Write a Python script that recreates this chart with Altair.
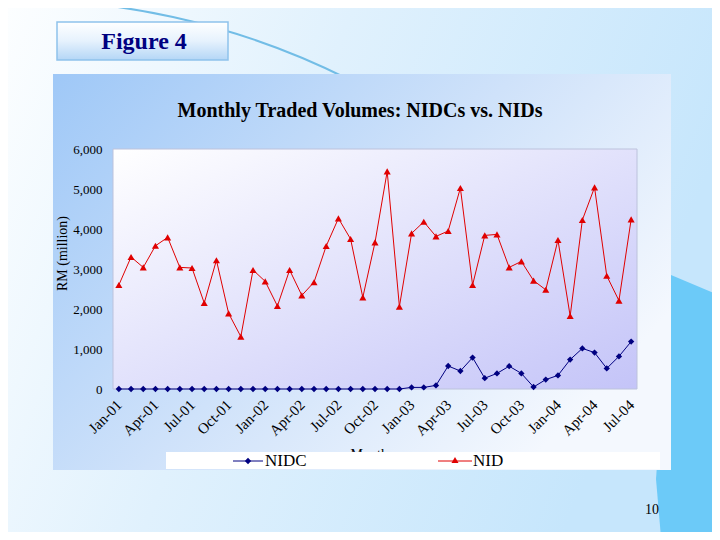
import altair as alt
import pandas as pd

# ---------------- data ----------------
month_names = ["Jan", "Feb", "Mar", "Apr", "May", "Jun",
               "Jul", "Aug", "Sep", "Oct", "Nov", "Dec"]
months = [f"{m}-{y:02d}" for y in range(1, 5) for m in month_names][:43]
quarter_labels = ["Jan-01", "Apr-01", "Jul-01", "Oct-01", "Jan-02", "Apr-02",
                  "Jul-02", "Oct-02", "Jan-03", "Apr-03", "Jul-03", "Oct-03",
                  "Jan-04", "Apr-04", "Jul-04"]

nidc = [0, 0, 0, 0, 0, 0, 0, 0, 0, 0,
        0, 0, 0, 0, 0, 0, 0, 0, 0, 0,
        0, 0, 0, 0, 40, 40, 90, 575, 450, 785,
        270, 390, 570, 390, 50, 235, 340, 735, 1015, 910,
        515, 815, 1185]
nid = [2600, 3300, 3040, 3580, 3790, 3040, 3025, 2150, 3220, 1890,
       1310, 2975, 2690, 2075, 2975, 2340, 2670, 3575, 4265, 3750,
       2290, 3665, 5440, 2060, 3890, 4180, 3815, 3950, 5025, 2600,
       3840, 3865, 3040, 3190, 2710, 2480, 3725, 1825, 4225, 5040,
       2830, 2210, 4240]
y_ticks = [0, 1000, 2000, 3000, 4000, 5000, 6000]

df = pd.DataFrame({"month": months, "NIDC": nidc, "NID": nid})

# ---------------- layout (plot area = 524 x 240) ----------------
W, H = 524, 240
SERIF = "Liberation Serif"
one = pd.DataFrame({"k": [0]})


def grad(stops, x2=1, y2=0):
    return alt.LinearGradient(
        gradient="linear",
        stops=[alt.GradientStop(color=c, offset=o) for o, c in stops],
        x1=0, y1=0, x2=x2, y2=y2)


def rect(x, x2, y, y2, fill, **kw):
    return alt.Chart(one).mark_rect(fill=fill, **kw).encode(
        x=alt.value(x), x2=alt.value(x2), y=alt.value(y), y2=alt.value(y2))


def text(t, x, y, **kw):
    return alt.Chart(one).mark_text(text=t, **kw).encode(
        x=alt.value(x), y=alt.value(y))


def shape(path, **kw):
    return alt.Chart(one).mark_point(shape=path, size=4, opacity=1, **kw).encode(
        x=alt.value(0), y=alt.value(0))


slide_bg = rect(-105, 599, -141, 383,
                grad([(0, "#fcfeff"), (0.45, "#e0f1fd"), (1, "#c6e6fc")], x2=1, y2=0.3))
swoosh = shape("M-125,-149 A748,748 0 0 1 235,-70", filled=False,
               stroke="#72bde6", strokeWidth=2)
right_blob = shape("M558,126 L620,152 L620,400 L549,400 L543,330 Z",
                   filled=True, fill="#6ccaf8", strokeWidth=0)
fig_box = rect(-56, 115, -127, -89,
               grad([(0, "#ffffff"), (0.5, "#e6f2fd"), (1, "#b4d6f6")], x2=0, y2=1),
               stroke="#8fc2ec", strokeWidth=1.5)
fig_text = text("Figure 4", 31, -107, font=SERIF, fontSize=24, fontWeight="bold",
                color="#000080", baseline="middle", align="center")
panel = rect(-60, 558, -75, 321,
             grad([(0, "#9fc8f7"), (0.55, "#cfe2fa"), (1, "#f4f8fe")], x2=1, y2=0.6))
plot_bg = rect(0, W, 0, H,
               grad([(0, "#ffffff"), (1, "#c4c4f8")], x2=1, y2=1),
               stroke="#bcc2dc", strokeWidth=1)
title = text("Monthly Traded Volumes: NIDCs vs. NIDs", 247, -38, font=SERIF,
             fontSize=20, fontWeight="bold", color="#000000",
             baseline="middle", align="center")
months_title = text("Months", 259, 299, font=SERIF, fontSize=14, color="#000000",
                    baseline="top", align="center")
legend_box = rect(53, 547, 303, 320, "#ffffff")
leg_nidc_line = alt.Chart(one).mark_rule(color="#000080", strokeWidth=1).encode(
    x=alt.value(120), x2=alt.value(150), y=alt.value(312))
leg_nidc_pt = alt.Chart(one).mark_point(shape="diamond", filled=True, size=40,
                                        color="#000080", opacity=1).encode(
    x=alt.value(135), y=alt.value(312))
leg_nidc_txt = text("NIDC", 152, 312, font=SERIF, fontSize=17, color="#000000",
                    baseline="middle", align="left")
leg_nid_line = alt.Chart(one).mark_rule(color="#e00000", strokeWidth=1).encode(
    x=alt.value(325), x2=alt.value(359), y=alt.value(312))
leg_nid_pt = alt.Chart(one).mark_point(shape="triangle-up", filled=True, size=50,
                                       color="#e00000", opacity=1).encode(
    x=alt.value(342), y=alt.value(311))
leg_nid_txt = text("NID", 360, 312, font=SERIF, fontSize=17, color="#000000",
                   baseline="middle", align="left")
page_no = text("10", 539, 361, font=SERIF, fontSize=14, color="#000000",
               baseline="middle", align="center")

# ---------------- data layers ----------------
x_enc = alt.X("month:N", sort=months,
              scale=alt.Scale(type="point", padding=0.48),
              axis=alt.Axis(values=quarter_labels, title=None, labelAngle=315,
                            labelAlign="right", labelBaseline="middle",
                            labelPadding=13, labelFont=SERIF, labelFontSize=15,
                            labelColor="#000000", tickSize=0, domain=False,
                            grid=False, zindex=2, labelOverlap=False))
y_axis = alt.Axis(values=y_ticks, format=",d", title="RM (million)",
                  labelFont=SERIF, labelFontSize=13, labelColor="#000000",
                  labelPadding=11, tickSize=0, domain=False, grid=False,
                  labelOverlap=False,
                  titleFont=SERIF, titleFontSize=14, titleFontWeight="normal",
                  titleColor="#000000", titleAngle=270, titleX=-51, titleY=104,
                  titleAlign="center", titleBaseline="middle", zindex=2)
y_scale = alt.Scale(domain=[0, 6000], nice=False)


def y_enc(field):
    return alt.Y(f"{field}:Q", scale=y_scale, axis=y_axis)


base = alt.Chart(df)
nid_line = base.mark_line(color="#e00000", strokeWidth=1).encode(
    x=x_enc, y=y_enc("NID"))
nid_pts = base.mark_point(shape="triangle-up", filled=True, size=50,
                          color="#e00000", opacity=1).encode(
    x=x_enc, y=y_enc("NID"))
nidc_line = base.mark_line(color="#000080", strokeWidth=1).encode(
    x=x_enc, y=y_enc("NIDC"))
nidc_pts = base.mark_point(shape="diamond", filled=True, size=40,
                           color="#000080", opacity=1).encode(
    x=x_enc, y=y_enc("NIDC"))

chart = alt.layer(
    slide_bg, swoosh, right_blob, fig_box, fig_text, panel, plot_bg, title,
    months_title, legend_box, leg_nidc_line, leg_nidc_pt, leg_nidc_txt,
    leg_nid_line, leg_nid_pt, leg_nid_txt, page_no,
    nid_line, nid_pts, nidc_line, nidc_pts,
).properties(
    width=W, height=H,
    padding={"left": 105, "top": 141, "right": 75, "bottom": 143},
    autosize=alt.AutoSizeParams(type="none"),
).configure_view(stroke=None)

chart.save("out.html", embed_options={"renderer": "svg", "actions": False})
